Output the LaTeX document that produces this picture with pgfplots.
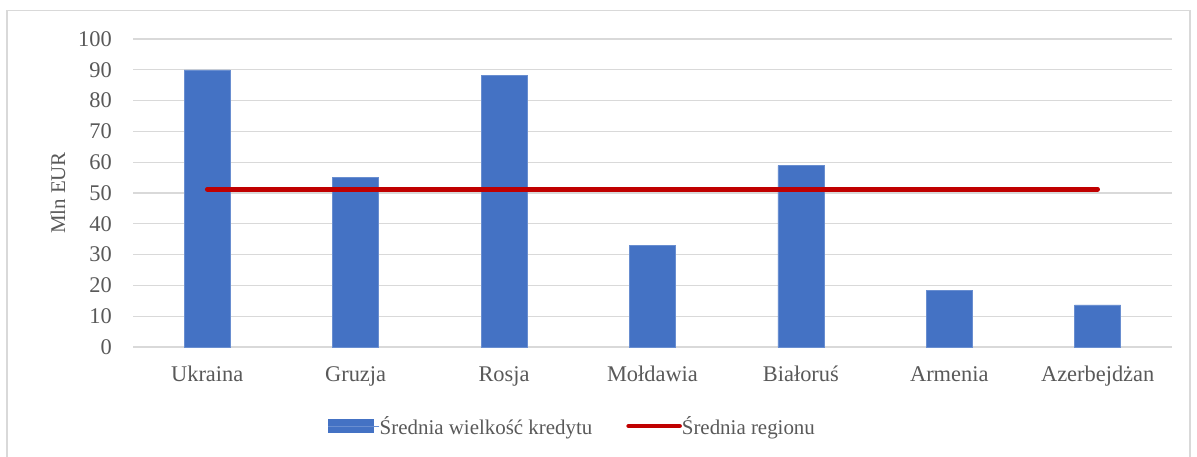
\documentclass[border=0pt]{standalone}
\usepackage{fontspec}
\setmainfont{Liberation Serif}
\usepackage{pgfplots}
\pgfplotsset{compat=1.18}
\definecolor{barblue}{HTML}{4472C4}
\definecolor{linered}{HTML}{C00000}
\definecolor{txtgrey}{HTML}{595959}
\definecolor{gridgrey}{HTML}{D9D9D9}
\begin{document}
\begin{tikzpicture}
\path[use as bounding box, fill=white] (0bp,0bp) rectangle (1197bp,-457bp);
\draw[gridgrey, line width=1.2bp] (7bp,-457bp) -- (7bp,-10.5bp) -- (1190bp,-10.5bp) -- (1190bp,-457bp);
\begin{axis}[
  scale only axis,
  width=1039bp, height=308bp,
  at={(133bp,-347bp)}, anchor=south west,
  xmin=-0.5, xmax=6.5, ymin=0, ymax=100,
  axis line style={draw=none},
  ytick={0,10,...,100},
  xtick={0,...,6},
  xticklabels={Ukraina,Gruzja,Rosja,Mołdawia,Białoruś,Armenia,Azerbejdżan},
  ymajorgrids, grid style={gridgrey, line width=1.3bp},
  major tick length=0pt,
  tick style={draw=none},
  /pgf/number format/assume math mode=true,
  tick label style={font=\fontsize{22.5}{26}\selectfont, text=txtgrey},
  yticklabel style={anchor=east, inner sep=0pt, xshift=-21bp},
  xticklabel style={anchor=north, inner sep=0pt, yshift=-19bp},
  ylabel={Mln EUR},
  ylabel style={at={(axis description cs:0,0.5)}, anchor=center, yshift=75bp, font=\fontsize{21}{25}\selectfont, text=txtgrey},
  legend columns=2,
  legend style={at={(0.4221,-0.2565)}, anchor=center, draw=none, fill=none,
    font=\fontsize{21}{25}\selectfont, text=txtgrey,
    /tikz/every even column/.append style={column sep=34bp},
    nodes={inner xsep=0pt}, inner sep=0pt},
  clip=false,
]
\addplot[ybar, bar width=46bp, fill=barblue, draw=barblue!80!white, line width=0.6bp,
  legend image code/.code={\fill[barblue] (0bp,-6.5bp) rectangle (45bp,6.5bp); \path (0bp,0bp) -- (51bp,0bp);}]
  coordinates {(0,90) (1,55.1) (2,88.3) (3,33.1) (4,58.9) (5,18.5) (6,13.7)};
\addlegendentry{Średnia wielkość kredytu}
\addplot[linered, line width=4.5bp, line cap=round, mark=none,
  legend image code/.code={\draw[linered, line width=4.5bp, line cap=round] (2.25bp,0bp) -- (44.75bp,0bp); \path (0bp,0bp) -- (51bp,0bp);}]
  coordinates {(0,51.2) (1,51.2) (2,51.2) (3,51.2) (4,51.2) (5,51.2) (6,51.2)};
\addlegendentry{Średnia regionu}
\end{axis}
\end{tikzpicture}
\end{document}
